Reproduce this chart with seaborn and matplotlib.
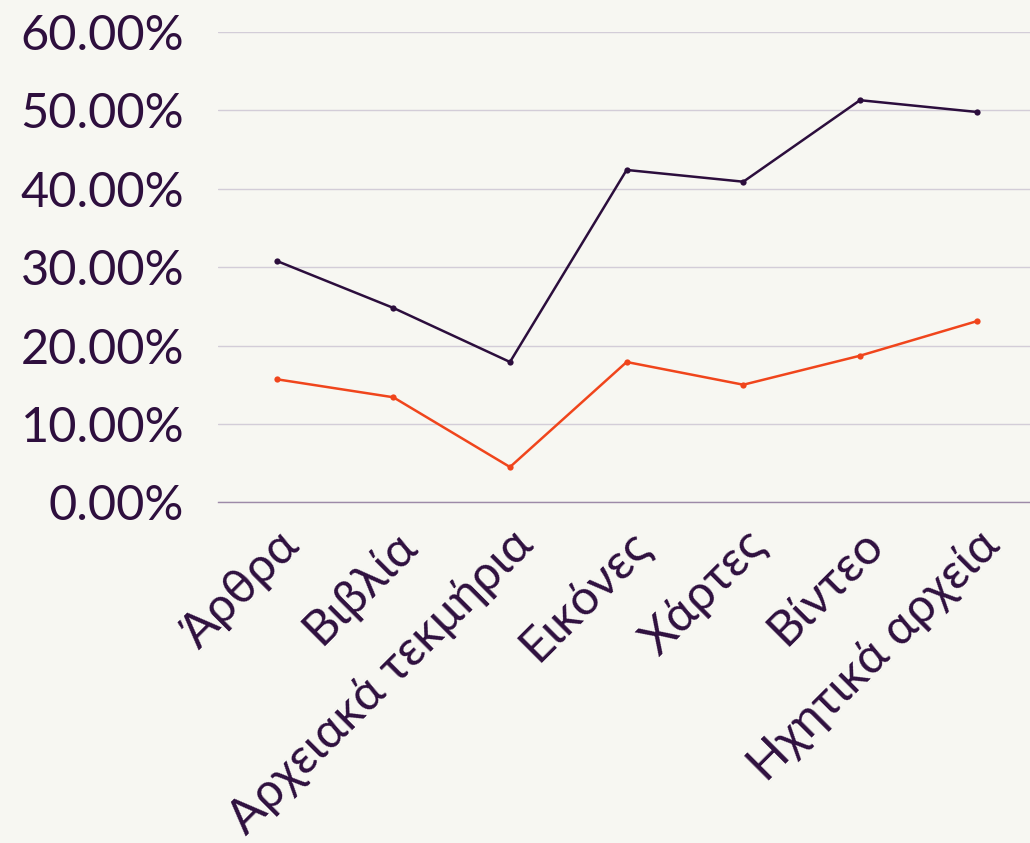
import matplotlib
matplotlib.use("Agg")
import matplotlib.pyplot as plt
import seaborn as sns
import pandas as pd
from matplotlib.ticker import FuncFormatter

categories = ["Άρθρα", "Βιβλία", "Αρχειακά τεκμήρια", "Εικόνες", "Χάρτες", "Βίντεο", "Ηχητικά αρχεία"]
series_dark = [30.8, 24.8, 17.9, 42.4, 40.9, 51.3, 49.8]
series_orange = [15.7, 13.4, 4.5, 17.9, 15.0, 18.7, 23.1]
series_names = ["Σειρά 1", "Σειρά 2"]
y_ticks = [0, 10, 20, 30, 40, 50, 60]

BG = "#f7f7f2"
TEXT = "#2e0f3e"
DARK = "#2c0e3d"
ORANGE = "#f0451c"

df = pd.DataFrame({
    "cat": categories * 2,
    "val": series_dark + series_orange,
    "series": [series_names[0]] * len(categories) + [series_names[1]] * len(categories),
})

sns.set_theme(style="white")
plt.rcParams["font.family"] = ["Lato", "Open Sans", "DejaVu Sans"]

fig = plt.figure(figsize=(10.30, 8.43), dpi=100, facecolor=BG)
ax = fig.add_axes([218.3 / 1030, 1 - 502.3 / 843, (1035 - 218.3) / 1030, (502.3 - 32) / 843])
ax.set_facecolor(BG)

sns.lineplot(data=df, x="cat", y="val", hue="series",
             palette={series_names[0]: DARK, series_names[1]: ORANGE},
             marker="o", markersize=4.5, markeredgewidth=0, linewidth=1.8,
             legend=False, sort=False, ax=ax)

ax.set_xlim(-0.5, len(categories) - 0.5)
ax.set_ylim(0, 60)
ax.set_yticks(y_ticks)
ax.yaxis.set_major_formatter(FuncFormatter(lambda v, p: f"{v:.2f}%"))
ax.grid(axis="y", color="#d3cdd8", linewidth=1.0)
ax.grid(axis="x", visible=False)
ax.set_axisbelow(True)
for s in ["top", "right", "left"]:
    ax.spines[s].set_visible(False)
ax.spines["bottom"].set_color("#9d8aa8")
ax.spines["bottom"].set_linewidth(1.0)

ax.tick_params(axis="y", length=0, pad=24.5, labelsize=35, labelcolor=TEXT)
ax.tick_params(axis="x", length=0, pad=14, labelsize=35, labelcolor=TEXT)
ax.set_xticks(range(len(categories)))
ax.set_xticklabels(categories, rotation=45, ha="right", va="top", rotation_mode="anchor")
ax.set_xlabel("")
ax.set_ylabel("")

fig.savefig("out.png", dpi=100, facecolor=BG)
